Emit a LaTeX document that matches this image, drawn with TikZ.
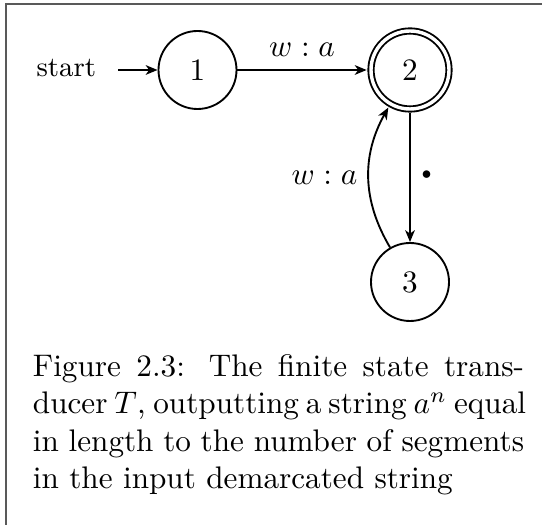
\documentclass[tikz,border=0pt]{standalone}
\usetikzlibrary{arrows.meta}
\begin{document}
\begin{tikzpicture}[x=0.3205pt, y=-0.3205pt,
  >={Stealth[length=3.8pt,width=3.1pt,inset=1.1pt]},
  every path/.style={line width=0.6pt},
  state/.style={circle, draw, line width=0.6pt, minimum size=25pt, inner sep=0pt},
  acc/.style={double, double distance=1.1pt, outer sep=1.4pt},
  capline/.style={anchor=base west, inner sep=0pt},
  frame/.style={draw=black!65, line width=0.65pt}]
\useasboundingbox (0,0) rectangle (542,525);
\draw[frame] (6.3,525) -- (6.3,4.2) -- (542,4.2);
\node[state] (n1) at (197.5,70) {1};
\node[state, acc] (n2) at (410,70) {2};
\node[state] (n3) at (410,282) {3};
\node[anchor=mid east, inner xsep=6.7pt, inner ysep=0pt, font=\fontsize{9}{11}\selectfont] (st) at (118,70) {start};
\draw[->] (st.mid east) -- (n1);
\draw[->] (n1) -- node[above, inner sep=4pt] (l12) {$w:a$} (n2);
\draw[->] (n2) -- node[right, inner sep=3.2pt, yshift=1pt] (l23) {\tiny$\bullet$} (n3);
\draw[->] (n3) to[bend left=30] node[left] (l32) {$w:a$} (n2);
\node[capline] (c1) at (32,376.5) {\makebox[157.4pt][s]{Figure 2.3: The finite state trans-}};
\node[capline] (c2) at (32,414) {\makebox[157.4pt][s]{ducer $T$, outputting a string $a^n$ equal}};
\node[capline] (c3) at (32,451.5) {\makebox[157.4pt][s]{in length to the number of segments}};
\node[capline] (c4) at (32,489) {in the input demarcated string};
\end{tikzpicture}
\end{document}
